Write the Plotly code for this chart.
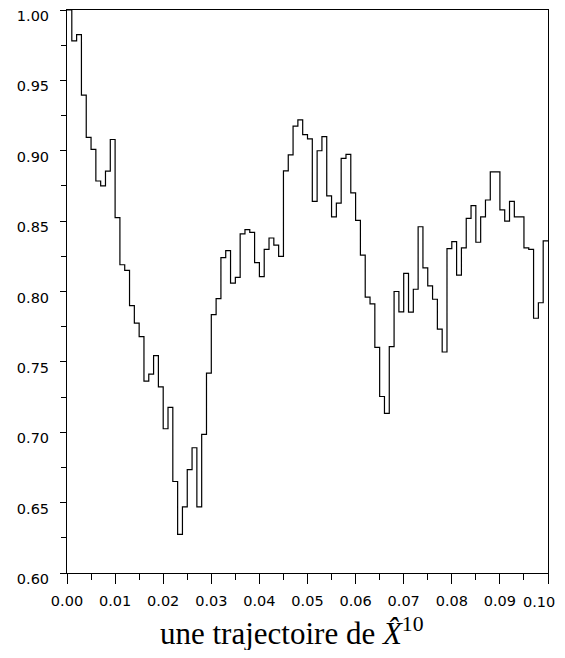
import numpy as np
import plotly.graph_objects as go

# step values of the trajectory, one per interval of width 0.001 on [0, 0.1]
values = [
    1.000, 0.978, 0.9825, 0.9395, 0.9095, 0.901, 0.8785, 0.875, 0.8855, 0.908,
    0.8525, 0.819, 0.815, 0.790, 0.7775, 0.768, 0.7363, 0.7413, 0.7545, 0.7323,
    0.7025, 0.7177, 0.665, 0.6275, 0.647, 0.6735, 0.689, 0.647, 0.6985, 0.742,
    0.7835, 0.795, 0.824, 0.829, 0.806, 0.810, 0.841, 0.844, 0.842, 0.8205,
    0.8105, 0.830, 0.838, 0.833, 0.825, 0.8857, 0.897, 0.9175, 0.922, 0.9115,
    0.9085, 0.864, 0.900, 0.910, 0.868, 0.853, 0.8628, 0.8946, 0.8974, 0.870,
    0.8505, 0.8258, 0.796, 0.7912, 0.7603, 0.7254, 0.7134, 0.7608, 0.800, 0.7855,
    0.8129, 0.7853, 0.8016, 0.846, 0.8168, 0.804, 0.7945, 0.7733, 0.757, 0.8305,
    0.8355, 0.8117, 0.831, 0.852, 0.861, 0.835, 0.853, 0.865, 0.885, 0.885,
    0.858, 0.850, 0.864, 0.853, 0.853, 0.831, 0.830, 0.781, 0.792, 0.836,
]
step = 0.001
x_start = 0.0

y_tickvals = [0.60, 0.65, 0.70, 0.75, 0.80, 0.85, 0.90, 0.95, 1.00]
y_ticktext = ["0.60", "0.65", "0.70", "0.75", "0.80", "0.85", "0.90", "0.95", "1.00"]
x_tickvals = [0.00, 0.01, 0.02, 0.03, 0.04, 0.05, 0.06, 0.07, 0.08, 0.09, 0.10]
x_ticktext = ["0.00", "0.01", "0.02", "0.03", "0.04", "0.05", "0.06", "0.07", "0.08", "0.09", "0.10"]
title_text = "une trajectoire de <i>X\u0302</i><sup>10</sup>"

n = len(values)
xs = [round(x_start + i * step, 6) for i in range(n + 1)]
ys = list(values) + [values[-1]]

fig = go.Figure()
fig.add_trace(go.Scatter(
    x=xs, y=ys, mode="lines", line=dict(shape="hv", color="black", width=1.2),
    showlegend=False,
))

tick_font = dict(family="DejaVu Sans, Arial, sans-serif", size=14.5, color="black")

# the last x label sits at the right edge; like the reference it is pulled
# inward (right-aligned) so it is not cut by the window edge
axis_ticktext = x_ticktext[:-1] + [""]
annotations = [dict(
    text=x_ticktext[-1], xref="x", yref="paper", x=x_tickvals[-1], y=0,
    xanchor="right", yanchor="middle", xshift=9, yshift=-29, showarrow=False,
    font=tick_font,
)]
annotations.append(dict(
    text=title_text, xref="paper", yref="paper", x=0.19, y=0,
    xanchor="left", yanchor="middle", yshift=-58, showarrow=False,
    font=dict(family="Liberation Serif, Times New Roman, serif", size=31, color="black"),
))

# the page body keeps the browser's default 8px margin, so the figure is sized to fit
fig.update_layout(
    width=557, height=642,
    margin=dict(l=59, r=17, t=2, b=77),
    paper_bgcolor="white", plot_bgcolor="white",
    xaxis=dict(
        range=[0, 0.1], showgrid=False, zeroline=False, automargin=False,
        showline=True, linecolor="black", linewidth=1, mirror=True,
        ticks="outside", ticklen=10, tickwidth=1, tickcolor="black",
        tickvals=x_tickvals, ticktext=axis_ticktext, tickfont=tick_font,
        ticklabelstandoff=5, ticklabeloverflow="allow",
        minor=dict(dtick=0.005, tick0=0, ticks="outside", ticklen=6, tickcolor="black", showgrid=False),
    ),
    yaxis=dict(
        range=[0.6, 1.0], showgrid=False, zeroline=False, automargin=False,
        showline=True, linecolor="black", linewidth=1, mirror=True,
        ticks="outside", ticklen=6, tickwidth=1, tickcolor="black",
        tickvals=y_tickvals, ticktext=y_ticktext, tickfont=tick_font,
        ticklabelstandoff=8, ticklabelshift=6, ticklabeloverflow="allow",
        minor=dict(dtick=0.025, tick0=0.6, ticks="outside", ticklen=5, tickcolor="black", showgrid=False),
    ),
    annotations=annotations,
)

fig.write_html("out.html")
